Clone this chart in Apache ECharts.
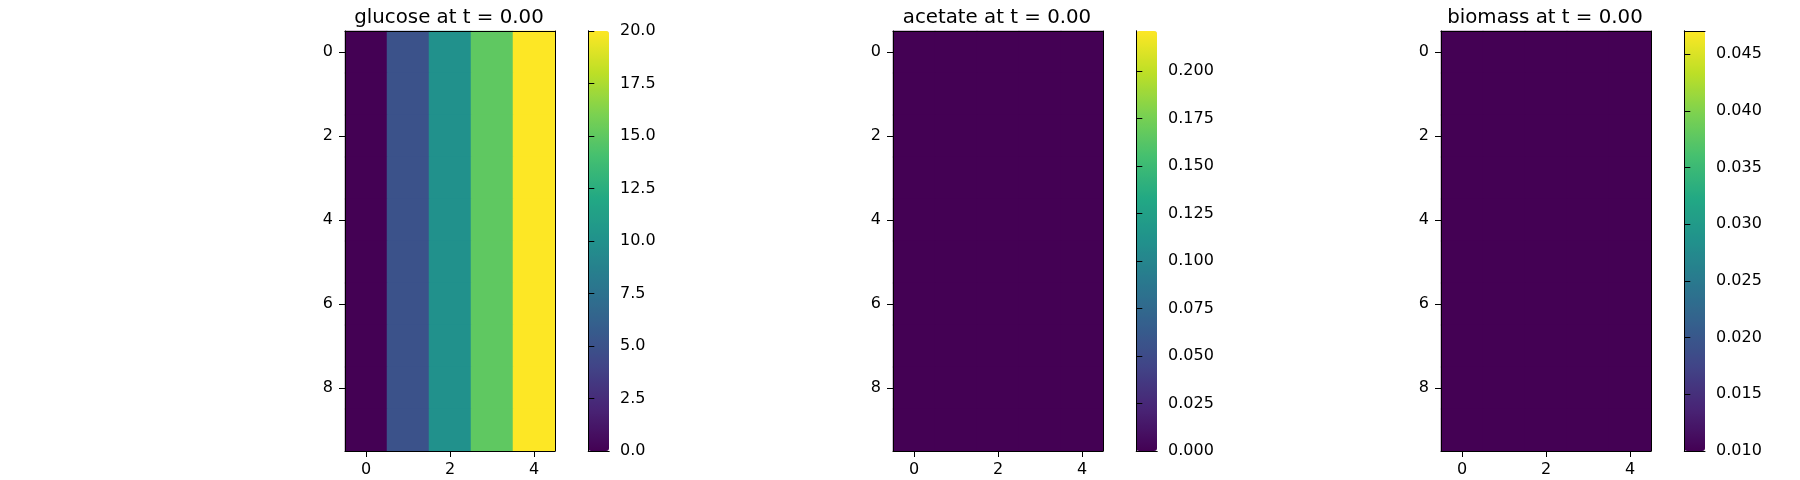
<!DOCTYPE html>
<html>
<head>
<meta charset="utf-8">
<script src="https://cdn.jsdelivr.net/npm/echarts@6/dist/echarts.min.js"></script>
<style>
html,body{margin:0;padding:0;background:#fff;}
#chart{width:1800px;height:480px;}
</style>
</head>
<body>
<div id="chart"></div>
<script>
// ---- data ----
const xCategories = ['0','1','2','3','4'];
const yCategories = ['0','1','2','3','4','5','6','7','8','9'];
const titles = ['glucose at t = 0.00', 'acetate at t = 0.00', 'biomass at t = 0.00'];

const glucose = [
  [0, 5, 10, 15, 20],
  [0, 5, 10, 15, 20],
  [0, 5, 10, 15, 20],
  [0, 5, 10, 15, 20],
  [0, 5, 10, 15, 20],
  [0, 5, 10, 15, 20],
  [0, 5, 10, 15, 20],
  [0, 5, 10, 15, 20],
  [0, 5, 10, 15, 20],
  [0, 5, 10, 15, 20]
];
const acetate = [
  [0, 0, 0, 0, 0],
  [0, 0, 0, 0, 0],
  [0, 0, 0, 0, 0],
  [0, 0, 0, 0, 0],
  [0, 0, 0, 0, 0],
  [0, 0, 0, 0, 0],
  [0, 0, 0, 0, 0],
  [0, 0, 0, 0, 0],
  [0, 0, 0, 0, 0],
  [0, 0, 0, 0, 0]
];
const biomass = [
  [0.01, 0.01, 0.01, 0.01, 0.01],
  [0.01, 0.01, 0.01, 0.01, 0.01],
  [0.01, 0.01, 0.01, 0.01, 0.01],
  [0.01, 0.01, 0.01, 0.01, 0.01],
  [0.01, 0.01, 0.01, 0.01, 0.01],
  [0.01, 0.01, 0.01, 0.01, 0.01],
  [0.01, 0.01, 0.01, 0.01, 0.01],
  [0.01, 0.01, 0.01, 0.01, 0.01],
  [0.01, 0.01, 0.01, 0.01, 0.01],
  [0.01, 0.01, 0.01, 0.01, 0.01]
];

const glucoseRange = [0, 20];
const acetateRange = [0, 0.2212];
const biomassRange = [0.010, 0.04705];

const glucoseTicks = [0, 2.5, 5, 7.5, 10, 12.5, 15, 17.5, 20];
const acetateTicks = [0, 0.025, 0.05, 0.075, 0.1, 0.125, 0.15, 0.175, 0.2];
const biomassTicks = [0.010, 0.015, 0.020, 0.025, 0.030, 0.035, 0.040, 0.045];

const tickDecimals = [1, 3, 3];

const viridis = ['#440154','#482475','#414487','#355f8d','#2a788e','#21918c',
                 '#22a884','#44bf70','#7ad151','#bddf26','#fde725'];

// ---- layout ----
const FONT = 'DejaVu Sans';
const panelLeft = [345, 893, 1441];
const plotTop = 31, plotW = 210, plotH = 420;
const cbOffset = 243.3, cbW = 20.7;
const TICK_FS = 16, TITLE_FS = 19.8;

const matrices = [glucose, acetate, biomass];
const ranges = [glucoseRange, acetateRange, biomassRange];
const ticks = [glucoseTicks, acetateTicks, biomassTicks];

const option = {
  backgroundColor: '#ffffff',
  animation: false,
  textStyle: { fontFamily: FONT },
  title: [], grid: [], xAxis: [], yAxis: [], series: [], visualMap: []
};

const lineOnly = { show: true, lineStyle: { color: '#000', width: 1 } };
const tickStyle = { color: '#000', width: 1 };

matrices.forEach((m, p) => {
  const L = panelLeft[p];
  option.title.push({
    text: titles[p], left: L + plotW / 2 - 1, top: 8, textAlign: 'center', padding: 0,
    textStyle: { fontFamily: FONT, fontSize: TITLE_FS, fontWeight: 'normal', color: '#000' }
  });
  option.grid.push({ left: L, top: plotTop, width: plotW, height: plotH });
  option.grid.push({ left: L + cbOffset, top: plotTop, width: cbW, height: plotH });
  const gH = 2 * p, gC = 2 * p + 1;

  // heatmap axes
  option.xAxis.push({
    type: 'category', data: xCategories, gridIndex: gH, position: 'bottom', z: 10,
    axisLine: lineOnly,
    axisTick: { show: true, alignWithLabel: true, interval: 1, length: 6, lineStyle: tickStyle },
    axisLabel: { interval: 1, margin: 11, color: '#000', fontSize: TICK_FS, fontFamily: FONT },
    splitLine: { show: false }
  });
  option.xAxis.push({
    type: 'category', data: xCategories, gridIndex: gH, position: 'top', z: 10,
    axisLine: lineOnly, axisTick: { show: false }, axisLabel: { show: false }, splitLine: { show: false }
  });
  // colorbar axes
  option.xAxis.push({
    type: 'value', min: 0, max: 1, gridIndex: gC, position: 'bottom', z: 10,
    axisLine: lineOnly, axisTick: { show: false }, axisLabel: { show: false }, splitLine: { show: false }
  });
  option.xAxis.push({
    type: 'value', min: 0, max: 1, gridIndex: gC, position: 'top', z: 10,
    axisLine: lineOnly, axisTick: { show: false }, axisLabel: { show: false }, splitLine: { show: false }
  });

  option.yAxis.push({
    type: 'category', data: yCategories, gridIndex: gH, position: 'left', inverse: true, z: 10,
    axisLine: lineOnly,
    axisTick: { show: true, alignWithLabel: true, interval: 1, length: 6, lineStyle: tickStyle },
    axisLabel: { interval: 1, margin: 12, color: '#000', fontSize: TICK_FS, fontFamily: FONT },
    splitLine: { show: false }
  });
  option.yAxis.push({
    type: 'category', data: yCategories, gridIndex: gH, position: 'right', inverse: true, z: 10,
    axisLine: lineOnly, axisTick: { show: false }, axisLabel: { show: false }, splitLine: { show: false }
  });
  const dec = tickDecimals[p];
  option.yAxis.push({
    type: 'value', min: ranges[p][0], max: ranges[p][1], gridIndex: gC, position: 'right', z: 10,
    axisLine: lineOnly,
    axisTick: { show: true, length: 6, customValues: ticks[p], lineStyle: tickStyle },
    axisLabel: { customValues: ticks[p], margin: 11, color: '#000', fontSize: TICK_FS, fontFamily: FONT,
                 formatter: v => Number(v).toFixed(dec) },
    splitLine: { show: false }
  });
  option.yAxis.push({
    type: 'value', min: ranges[p][0], max: ranges[p][1], gridIndex: gC, position: 'left', z: 10,
    axisLine: lineOnly, axisTick: { show: false }, axisLabel: { show: false }, splitLine: { show: false }
  });

  const data = [];
  m.forEach((row, yi) => row.forEach((v, xi) => data.push([xi, yi, v])));
  option.series.push({
    type: 'heatmap', xAxisIndex: 4 * p, yAxisIndex: 4 * p, data: data,
    emphasis: { disabled: true }, label: { show: false }
  });
  option.visualMap.push({
    type: 'continuous', seriesIndex: p, min: ranges[p][0], max: ranges[p][1],
    calculable: false, orient: 'vertical', padding: 0,
    left: L + cbOffset, top: plotTop, itemWidth: cbW, itemHeight: plotH,
    inRange: { color: viridis }, hoverLink: false, text: null, showLabel: false
  });
});

const chart = echarts.init(document.getElementById('chart'), null, { renderer: 'canvas' });
chart.setOption(option);
</script>
</body>
</html>
